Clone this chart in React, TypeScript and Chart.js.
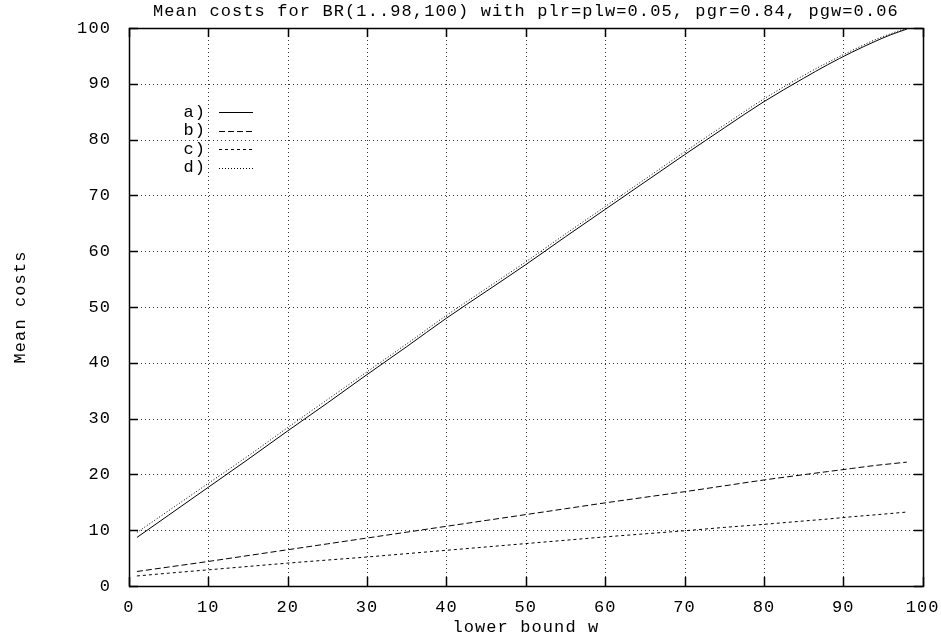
import { useEffect, useRef } from 'react';
import { Chart, registerables } from 'chart.js';
Chart.register(...registerables);

const TITLE = 'Mean costs for BR(1..98,100) with plr=plw=0.05, pgr=0.84, pgw=0.06';
const X_TITLE = 'lower bound w';
const Y_TITLE = 'Mean costs';
const SERIES_LABELS = ['a)', 'b)', 'c)', 'd)'];

const W = [1, 5, 10, 15, 20, 25, 30, 35, 40, 45, 50, 55, 60, 65, 70, 75, 80, 85, 88, 91, 94, 96, 98];
const seriesA = [8.7, 12.7, 17.7, 22.7, 27.8, 32.8, 37.9, 42.9, 48.0, 52.8, 57.6, 62.6, 67.5, 72.4, 77.3, 82.1, 86.8, 91.0, 93.4, 95.6, 97.6, 98.8, 99.8];
const seriesB = [2.6, 3.4, 4.4, 5.45, 6.5, 7.55, 8.6, 9.65, 10.7, 11.75, 12.8, 13.85, 14.9, 15.9, 16.9, 17.95, 19.0, 19.95, 20.5, 21.05, 21.6, 21.9, 22.2];
const seriesC = [1.8, 2.3, 2.9, 3.5, 4.1, 4.65, 5.2, 5.8, 6.4, 7.0, 7.6, 8.2, 8.8, 9.35, 9.9, 10.5, 11.05, 11.65, 12.0, 12.4, 12.75, 13.0, 13.25];
const seriesD = [9.6, 13.5, 18.4, 23.3, 28.4, 33.4, 38.4, 43.4, 48.5, 53.3, 58.1, 63.1, 68.0, 72.9, 77.8, 82.6, 87.3, 91.5, 93.8, 95.9, 97.9, 99.0, 100.0];

const X_TICKS = [0, 10, 20, 30, 40, 50, 60, 70, 80, 90, 100];
const Y_TICKS = [0, 10, 20, 30, 40, 50, 60, 70, 80, 90, 100];

const DASHES: number[][] = [[], [6, 3], [3, 3], [1, 2]];

const FONT = '"Liberation Mono", "DejaVu Sans Mono", monospace';
const FONT_SIZE = 17;
const SPACING = '1.1px';

const gnuplotPlugin = {
  id: 'gnuplotStyle',
  beforeDraw(chart: any) {
    const ctx = chart.ctx;
    ctx.save();
    ctx.fillStyle = '#fff';
    ctx.fillRect(0, 0, chart.width, chart.height);
    ctx.restore();
    (ctx as any).letterSpacing = SPACING;
  },
  beforeDatasetsDraw(chart: any) {
    const ctx = chart.ctx;
    const { left, right, top, bottom } = chart.chartArea;
    const xs = chart.scales.x;
    const ys = chart.scales.y;
    ctx.save();
    ctx.strokeStyle = 'rgba(0,0,0,0.8)';
    ctx.lineWidth = 1;
    ctx.setLineDash([1, 3]);
    X_TICKS.forEach((v) => {
      if (v === X_TICKS[0] || v === X_TICKS[X_TICKS.length - 1]) return;
      const px = Math.round(xs.getPixelForValue(v)) + 0.5;
      ctx.beginPath();
      ctx.moveTo(px, top);
      ctx.lineTo(px, bottom);
      ctx.stroke();
    });
    Y_TICKS.forEach((v) => {
      if (v === Y_TICKS[0] || v === Y_TICKS[Y_TICKS.length - 1]) return;
      const py = Math.round(ys.getPixelForValue(v)) + 0.5;
      ctx.beginPath();
      ctx.moveTo(left, py);
      ctx.lineTo(right, py);
      ctx.stroke();
    });
    ctx.setLineDash([]);
    ctx.strokeStyle = '#000';
    ctx.lineWidth = 1.5;
    ctx.strokeRect(Math.round(left) + 0.5, Math.round(top) + 0.5, Math.round(right - left), Math.round(bottom - top));
    const tl = 9;
    X_TICKS.forEach((v) => {
      const px = Math.round(xs.getPixelForValue(v)) + 0.5;
      ctx.beginPath();
      ctx.moveTo(px, bottom);
      ctx.lineTo(px, bottom - tl);
      ctx.moveTo(px, top);
      ctx.lineTo(px, top + tl);
      ctx.stroke();
    });
    Y_TICKS.forEach((v) => {
      const py = Math.round(ys.getPixelForValue(v)) + 0.5;
      ctx.beginPath();
      ctx.moveTo(left, py);
      ctx.lineTo(left + tl, py);
      ctx.moveTo(right, py);
      ctx.lineTo(right - tl, py);
      ctx.stroke();
    });
    ctx.restore();
  },
  afterDraw(chart: any) {
    const ctx = chart.ctx;
    const { left, right, top, bottom } = chart.chartArea;
    ctx.save();
    (ctx as any).letterSpacing = SPACING;
    ctx.fillStyle = '#000';
    ctx.font = `${FONT_SIZE}px ${FONT}`;
    ctx.textAlign = 'center';
    ctx.textBaseline = 'middle';
    ctx.fillText(TITLE, (left + right) / 2, 11);
    ctx.fillText(X_TITLE, (left + right) / 2, 627);
    ctx.save();
    ctx.translate(20, (top + bottom) / 2);
    ctx.rotate(-Math.PI / 2);
    ctx.fillText(Y_TITLE, 0, 0);
    ctx.restore();
    const textRight = 206;
    const sx0 = 219;
    const sx1 = 253;
    const y0 = 112;
    const dy = 18.5;
    chart.data.datasets.forEach((ds: any, i: number) => {
      const y = y0 + i * dy;
      ctx.textAlign = 'right';
      ctx.fillText(ds.label, textRight, y);
      ctx.strokeStyle = ds.borderColor;
      ctx.lineWidth = ds.borderWidth;
      ctx.setLineDash(ds.borderDash || []);
      ctx.beginPath();
      ctx.moveTo(sx0, Math.round(y) + 0.5);
      ctx.lineTo(sx1, Math.round(y) + 0.5);
      ctx.stroke();
    });
    ctx.restore();
  },
};

export default function App() {
  const ref = useRef<HTMLCanvasElement | null>(null);
  useEffect(() => {
    document.body.style.margin = '0';
    const canvas = ref.current;
    if (!canvas) return;
    const allSeries = [seriesA, seriesB, seriesC, seriesD];
    const chart = new Chart(canvas, {
      type: 'line',
      data: {
        datasets: allSeries.map((s, i) => ({
          label: SERIES_LABELS[i],
          data: W.map((w, j) => ({ x: w, y: s[j] })),
          borderColor: '#000',
          borderWidth: 1,
          borderDash: DASHES[i],
          pointRadius: 0,
          cubicInterpolationMode: 'monotone' as const,
          fill: false,
        })),
      },
      options: {
        responsive: false,
        animation: false,
        devicePixelRatio: 1,
        layout: { padding: { top: 28, right: 18, left: 0, bottom: 0 } },
        plugins: {
          legend: { display: false },
          title: { display: false },
          tooltip: { enabled: false },
        },
        scales: {
          x: {
            type: 'linear',
            min: 0,
            max: 100,
            grid: { display: false },
            border: { display: false },
            afterBuildTicks: (scale: any) => {
              scale.ticks = X_TICKS.map((v) => ({ value: v }));
            },
            afterFit: (scale: any) => {
              scale.height = 53;
            },
            ticks: {
              color: '#000',
              padding: 3,
              maxRotation: 0,
              autoSkip: false,
              font: { family: FONT, size: FONT_SIZE },
            },
          },
          y: {
            type: 'linear',
            min: 0,
            max: 100,
            grid: { display: false },
            border: { display: false },
            afterBuildTicks: (scale: any) => {
              scale.ticks = Y_TICKS.map((v) => ({ value: v }));
            },
            afterFit: (scale: any) => {
              scale.width = 129;
            },
            ticks: {
              color: '#000',
              padding: 10,
              autoSkip: false,
              font: { family: FONT, size: FONT_SIZE },
            },
          },
        },
      },
      plugins: [gnuplotPlugin],
    });
    return () => chart.destroy();
  }, []);
  return <canvas ref={ref} width={941} height={639} style={{ display: 'block' }} />;
}
